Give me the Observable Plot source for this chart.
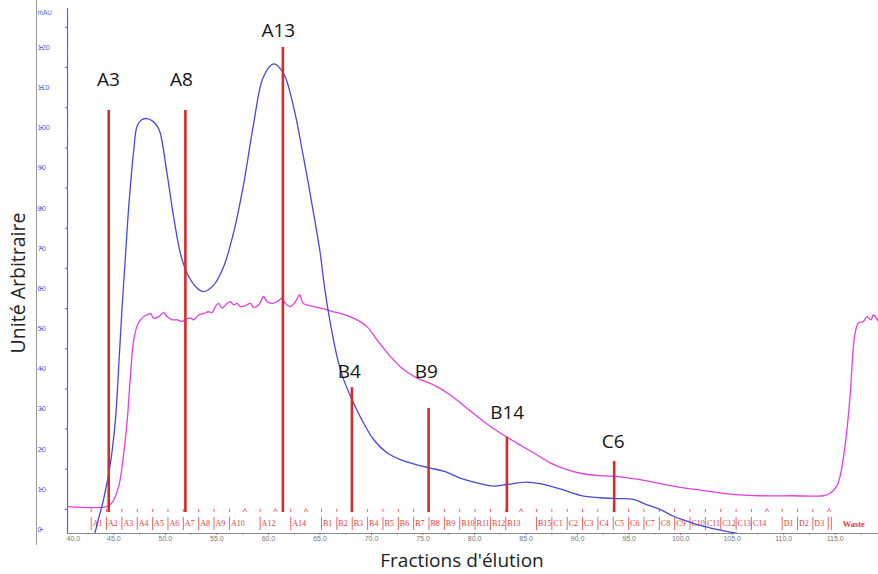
<!DOCTYPE html>
<html><head><meta charset="utf-8">
<script src="https://cdn.jsdelivr.net/npm/d3@7"></script>
<script src="https://cdn.jsdelivr.net/npm/@observablehq/plot@0.6"></script>
<style>
body{margin:0;background:#fff;}
#chart{position:relative;width:878px;height:574px;overflow:hidden;}
#chart::before{content:"";position:absolute;left:36px;top:0;height:545px;border-left:1px solid #9a9a9a;}
</style></head><body><div id="chart"></div>
<script>
// UV absorbance (blue)
const blueX = [43.1,43.6,44.0,44.67,45.15,45.5,45.8,46.12,46.44,46.93,47.25,47.7,48.22,48.8,49.2,49.5,50.16,50.8,51.45,52.1,53.07,53.7,54.7,55.65,56.6,57.6,58.56,59.5,60.5,61.47,62.44,63.4,64.38,65.03,65.35,65.84,66.65,67.3,68.26,69.23,70.2,71.5,72.8,74.4,75.7,77.0,78.6,80.23,81.84,83.14,85.08,86.37,88.3,90.25,92.2,94.13,95.4,96.7,98.0,99.3,100.6,101.9,103.5,105.1,105.9];
const blueY = [-1.5,3.5,7.5,16.6,27.3,42,55.5,67.9,80.3,94.4,100.4,102.0,102.3,101.6,100.4,98.7,88.6,77.8,68.8,63.8,60.1,59.2,60.9,65.4,73.7,86.1,101,112.6,115.9,113.5,105.2,92.7,78.7,68.7,62.1,53.8,43.1,37.3,31.5,26.5,22.4,19.1,17.4,16.1,15.3,14.5,12.8,11.6,10.8,11.2,11.8,11.4,10.1,8.5,7.9,7.7,7.5,6.2,5.0,3.3,2.1,1.0,0,-0.8,-1.2];
// conductivity (magenta)
const pinkX = [40.5,44.3,44.83,45.47,45.96,46.3,46.6,46.93,47.3,47.58,48.0,48.22,48.55,48.87,49.35,49.84,50.16,50.65,51.13,51.62,51.94,52.42,52.75,53.23,53.72,54.2,54.53,54.85,55.17,55.5,55.82,56.3,56.63,56.95,57.27,57.76,58.24,58.57,59.05,59.53,59.86,60.35,60.83,61.32,61.64,62.12,62.61,63.03,63.36,63.74,64.39,65.03,65.68,66.32,66.97,68.26,69.56,70.53,71.82,73.11,74.41,76.02,77.64,79.26,80.87,82.49,84.11,85.72,87.34,88.96,90.25,92.2,94.13,96.07,98.0,99.94,101.9,103.8,105.7,107.7,110.9,113.85,114.5,115.15,115.47,115.95,116.44,116.76,116.93,117.25,117.73,118.1,118.47,118.7,119.2];
const pinkY = [5.7,5.7,6.7,10.8,19,27.3,38,47.2,51,52.2,53.2,53.4,53.8,52.6,53.0,54.0,53.0,52.2,52.2,51.8,52.4,52.6,52.2,53.4,53.8,54.2,54.0,55.5,56.3,55.1,55.9,56.7,55.9,56.3,55.5,55.7,56.3,55.3,55.9,58.0,56.7,56.3,56.7,57.6,56.3,55.5,56.7,58.4,56.3,55.9,55.5,55.1,54.7,54.2,53.8,52.6,50.5,47.2,43.1,39.8,37.7,36.0,33.5,30.2,26.9,24.0,21.5,19.1,16.6,14.9,14.0,13.4,13.1,12.4,11.4,10.5,9.8,9.1,8.6,8.4,8.4,8.4,9.0,10.8,13.2,20.7,33.1,45.5,48.9,51.4,51.8,53.0,52.2,53.4,51.8];

// Highlighted fractions (red markers)
const markNames = ["A3","A8","A13","B4","B9","B14","C6"];
const markX = [44.5,51.94,61.4,68.1,75.54,83.14,93.55];
const markTop = [104.3,104.3,120,35.3,30.1,22.9,16.9];
const markBase = [4.2,4.2,4.2,4.2,4.2,4.2,4.2];
const markLabelX = [44.47,51.55,60.96,67.85,75.32,83.17,93.45];
const markLabelY = [111.8,111.8,124,39.3,39.3,28.9,21.9];

// Fraction collector row
const fracLabels = ["A1","A2","A3","A4","A5","A6","A7","A8","A9","A10","A12","A14","B1","B2","B3","B4","B5","B6","B7","B8","B9","B10","B11","B12","B13","B15","C1","C2","C3","C4","C5","C6","C7","C8","C9","C10","C11","C12","C13","C14","D1","D2","D3"];
const fracStart = [42.8,44.29,45.78,47.27,48.76,50.25,51.74,53.23,54.72,56.21,59.19,62.17,65.15,66.64,68.13,69.62,71.11,72.6,74.09,75.58,77.07,78.56,80.05,81.54,83.03,86.01,87.5,88.99,90.48,91.97,93.46,94.95,96.44,97.93,99.42,100.91,102.4,103.89,105.38,106.87,109.85,111.34,112.83];
const fracEndBars = [114.32,114.62];
const caretX = [57.7,60.68,63.66,84.52,108.36,114.4];
const wasteLabel = ["Waste"];
const wasteX = [116.8];

// Axes
const xDomain = [40.5, 119.2];
const yDomain = [-1.0, 129.7];
const xTicks = [45,50,55,60,65,70,75,80,85,90,95,100,105,110,115];
const xFirstLabel = ["40.0"];
const xMinor = [42.5,47.5,52.5,57.5,62.5,67.5,72.5,77.5,82.5,87.5,92.5,97.5,102.5,107.5,112.5,117.5];
const yTicks = [0,10,20,30,40,50,60,70,80,90,100,110,120];
const yMinor = [5,15,25,35,45,55,65,75,85,95,105,115,125];
const yUnit = ["mAU"];
const xTitle = ["Fractions d'élution"];
const yTitle = ["Unité Arbitraire"];

const blue = blueX.map((x, i) => ({x, y: blueY[i]}));
const pink = pinkX.map((x, i) => ({x, y: pinkY[i]}));
const marks = markNames.map((name, i) => ({name, x: markX[i], top: markTop[i], base: markBase[i], lx: markLabelX[i], ly: markLabelY[i]}));
const fracs = fracLabels.map((name, i) => ({name, x: fracStart[i]}));
const bars = fracStart.concat(fracEndBars);

const RED = "#e0403c";
const AXISBLUE = "#5f5fe6";

const chart = Plot.plot({
  width: 878, height: 574,
  marginLeft: 67, marginRight: 0, marginTop: 8, marginBottom: 41,
  x: {domain: xDomain},
  y: {domain: yDomain},
  style: {fontFamily: "Liberation Sans, Arial, sans-serif", background: "white", overflow: "visible"},
  marks: [
    Plot.frame({anchor: "left", stroke: AXISBLUE, strokeWidth: 1.2}),
    Plot.frame({anchor: "bottom", stroke: "#8a8a8a", strokeWidth: 1}),
    Plot.axisY(yTicks, {anchor: "left", tickSize: 3, tickPadding: 3, textAnchor: "start", dx: -24, fontSize: 7.5, color: AXISBLUE, label: null, tickFormat: d => String(d)}),
    Plot.axisY(yMinor, {anchor: "left", tickSize: 2, tickFormat: () => "", color: AXISBLUE, label: null}),
    Plot.text(yUnit, {frameAnchor: "top-left", dx: -30, dy: 2, textAnchor: "start", fontSize: 6.5, fill: AXISBLUE}),
    Plot.axisX(xTicks, {anchor: "bottom", tickSize: 2, tickPadding: 1, fontSize: 7, color: "#777", label: null, tickFormat: d => d.toFixed(1)}),
    Plot.axisX(xMinor, {anchor: "bottom", tickSize: 1.5, tickFormat: () => "", color: "#777", label: null}),
    Plot.text(xFirstLabel, {frameAnchor: "bottom-left", textAnchor: "start", lineAnchor: "top", dx: -1, dy: 3, fontSize: 7, fill: "#777"}),
    // fraction row
    Plot.ruleX(bars, {x: d => d, y1: -0.25, y2: 3.0, stroke: RED, strokeWidth: 0.8}),
    Plot.ruleX(fracStart, {x: d => d, y1: 4.2, y2: 5.0, stroke: RED, strokeWidth: 0.8}),
    Plot.text(fracs, {x: "x", y: 1.4, text: "name", textAnchor: "start", dx: 1.5, fontSize: 8, fontFamily: "Liberation Serif, serif", fill: RED}),
    Plot.text(caretX, {x: d => d, y: 4.4, text: () => "^", fontSize: 9, fill: RED, fontFamily: "Liberation Sans, sans-serif"}),
    Plot.text(wasteLabel, {x: wasteX, y: 1.4, text: d => d, fontSize: 8.5, fontWeight: "bold", fontFamily: "Liberation Serif, serif", fill: RED}),
    // curves
    Plot.line(pink, {x: "x", y: "y", stroke: "#e23ee0", strokeWidth: 1.3, curve: "catmull-rom", clip: true}),
    Plot.line(blue, {x: "x", y: "y", stroke: "#4848dc", strokeWidth: 1.3, curve: "catmull-rom", clip: true}),
    // red fraction markers
    Plot.ruleX(marks, {x: "x", y1: "base", y2: "top", stroke: "#d42c2c", strokeWidth: 2.6}),
    Plot.text(marks, {x: "lx", y: "ly", text: "name", fontSize: 19, fontFamily: "Open Sans, sans-serif", fill: "#151515"}),
    // titles
    Plot.text(yTitle, {frameAnchor: "left", rotate: -90, textAnchor: "middle", dx: -49, dy: 12, fontSize: 19.5, fontFamily: "Open Sans, sans-serif", fill: "#222"}),
    Plot.text(xTitle, {frameAnchor: "bottom", textAnchor: "middle", dx: -11, dy: 33, fontSize: 19, fontFamily: "Open Sans, sans-serif", fill: "#222"})
  ]
});
document.getElementById("chart").appendChild(chart);
</script></body></html>
